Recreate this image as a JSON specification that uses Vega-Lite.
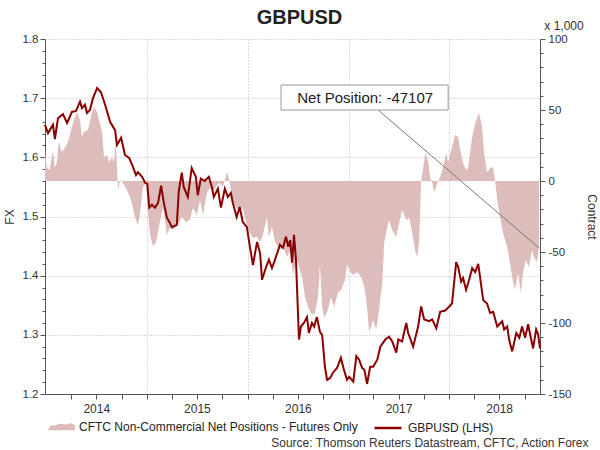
{
  "$schema": "https://vega.github.io/schema/vega-lite/v6.json",
  "width": 495,
  "height": 355,
  "autosize": {"type": "none"},
  "padding": {"left": 45, "top": 39, "right": 60, "bottom": 56},
  "background": "white",
  "config": {
    "view": {"stroke": null},
    "font": "Liberation Sans",
    "axis": {
      "labelFont": "Liberation Sans",
      "titleFont": "Liberation Sans",
      "labelColor": "#333333",
      "titleColor": "#333333",
      "domainColor": "#555555",
      "tickColor": "#555555",
      "labelFontSize": 12,
      "titleFontSize": 12,
      "titleFontWeight": "normal"
    }
  },
  "title": {
    "text": "GBPUSD",
    "font": "Liberation Sans",
    "fontSize": 20,
    "fontWeight": "bold",
    "color": "#222222",
    "anchor": "middle",
    "dx": 7,
    "offset": -8
  },
  "datasets": {
    "fx": [
      {"date": "2013-12-27", "fx": 1.655},
      {"date": "2014-01-07", "fx": 1.641},
      {"date": "2014-01-25", "fx": 1.655},
      {"date": "2014-02-01", "fx": 1.631},
      {"date": "2014-02-12", "fx": 1.666},
      {"date": "2014-03-02", "fx": 1.673},
      {"date": "2014-03-17", "fx": 1.658},
      {"date": "2014-04-04", "fx": 1.677},
      {"date": "2014-04-18", "fx": 1.678},
      {"date": "2014-05-03", "fx": 1.694},
      {"date": "2014-05-10", "fx": 1.683},
      {"date": "2014-05-21", "fx": 1.689},
      {"date": "2014-05-28", "fx": 1.675},
      {"date": "2014-06-08", "fx": 1.68},
      {"date": "2014-06-19", "fx": 1.7},
      {"date": "2014-07-04", "fx": 1.717},
      {"date": "2014-07-18", "fx": 1.71},
      {"date": "2014-08-02", "fx": 1.689},
      {"date": "2014-08-20", "fx": 1.66},
      {"date": "2014-09-07", "fx": 1.646},
      {"date": "2014-09-14", "fx": 1.621},
      {"date": "2014-09-29", "fx": 1.633},
      {"date": "2014-10-13", "fx": 1.604},
      {"date": "2014-10-28", "fx": 1.599},
      {"date": "2014-11-11", "fx": 1.584},
      {"date": "2014-11-22", "fx": 1.57},
      {"date": "2014-11-29", "fx": 1.575},
      {"date": "2014-12-14", "fx": 1.567},
      {"date": "2014-12-25", "fx": 1.557},
      {"date": "2015-01-02", "fx": 1.555},
      {"date": "2015-01-09", "fx": 1.515},
      {"date": "2015-01-19", "fx": 1.52},
      {"date": "2015-01-30", "fx": 1.515},
      {"date": "2015-02-10", "fx": 1.523},
      {"date": "2015-02-21", "fx": 1.552},
      {"date": "2015-03-03", "fx": 1.523},
      {"date": "2015-03-14", "fx": 1.498},
      {"date": "2015-03-25", "fx": 1.489},
      {"date": "2015-04-01", "fx": 1.482},
      {"date": "2015-04-19", "fx": 1.486},
      {"date": "2015-04-26", "fx": 1.542},
      {"date": "2015-05-07", "fx": 1.574},
      {"date": "2015-05-14", "fx": 1.55},
      {"date": "2015-05-29", "fx": 1.533},
      {"date": "2015-06-12", "fx": 1.582},
      {"date": "2015-06-27", "fx": 1.567},
      {"date": "2015-07-04", "fx": 1.536},
      {"date": "2015-07-15", "fx": 1.564},
      {"date": "2015-07-29", "fx": 1.56},
      {"date": "2015-08-13", "fx": 1.567},
      {"date": "2015-08-24", "fx": 1.55},
      {"date": "2015-08-31", "fx": 1.533},
      {"date": "2015-09-15", "fx": 1.547},
      {"date": "2015-09-26", "fx": 1.515},
      {"date": "2015-10-10", "fx": 1.547},
      {"date": "2015-10-21", "fx": 1.533},
      {"date": "2015-11-01", "fx": 1.54},
      {"date": "2015-11-08", "fx": 1.523},
      {"date": "2015-11-22", "fx": 1.499},
      {"date": "2015-12-03", "fx": 1.516},
      {"date": "2015-12-14", "fx": 1.491},
      {"date": "2015-12-29", "fx": 1.482},
      {"date": "2016-01-09", "fx": 1.449},
      {"date": "2016-01-20", "fx": 1.418},
      {"date": "2016-02-04", "fx": 1.457},
      {"date": "2016-02-15", "fx": 1.438},
      {"date": "2016-02-22", "fx": 1.393},
      {"date": "2016-03-08", "fx": 1.415},
      {"date": "2016-03-18", "fx": 1.427},
      {"date": "2016-03-29", "fx": 1.413},
      {"date": "2016-04-09", "fx": 1.427},
      {"date": "2016-04-27", "fx": 1.452},
      {"date": "2016-05-08", "fx": 1.447},
      {"date": "2016-05-19", "fx": 1.466},
      {"date": "2016-05-27", "fx": 1.449},
      {"date": "2016-06-03", "fx": 1.46},
      {"date": "2016-06-10", "fx": 1.422},
      {"date": "2016-06-17", "fx": 1.469},
      {"date": "2016-06-24", "fx": 1.427},
      {"date": "2016-07-05", "fx": 1.292},
      {"date": "2016-07-12", "fx": 1.314},
      {"date": "2016-07-23", "fx": 1.32},
      {"date": "2016-08-03", "fx": 1.33},
      {"date": "2016-08-10", "fx": 1.303},
      {"date": "2016-08-21", "fx": 1.32},
      {"date": "2016-08-29", "fx": 1.314},
      {"date": "2016-09-08", "fx": 1.33},
      {"date": "2016-09-19", "fx": 1.305},
      {"date": "2016-09-27", "fx": 1.3},
      {"date": "2016-10-07", "fx": 1.246},
      {"date": "2016-10-15", "fx": 1.224},
      {"date": "2016-10-26", "fx": 1.227},
      {"date": "2016-11-05", "fx": 1.236},
      {"date": "2016-11-20", "fx": 1.244},
      {"date": "2016-12-04", "fx": 1.261},
      {"date": "2016-12-15", "fx": 1.241},
      {"date": "2016-12-26", "fx": 1.224},
      {"date": "2017-01-03", "fx": 1.229},
      {"date": "2017-01-18", "fx": 1.221},
      {"date": "2017-01-29", "fx": 1.264},
      {"date": "2017-02-08", "fx": 1.258},
      {"date": "2017-02-19", "fx": 1.244},
      {"date": "2017-02-27", "fx": 1.241},
      {"date": "2017-03-09", "fx": 1.217},
      {"date": "2017-03-20", "fx": 1.246},
      {"date": "2017-03-31", "fx": 1.246},
      {"date": "2017-04-15", "fx": 1.258},
      {"date": "2017-04-26", "fx": 1.28},
      {"date": "2017-05-14", "fx": 1.292},
      {"date": "2017-05-28", "fx": 1.297},
      {"date": "2017-06-08", "fx": 1.289},
      {"date": "2017-06-23", "fx": 1.27},
      {"date": "2017-06-30", "fx": 1.292},
      {"date": "2017-07-14", "fx": 1.289},
      {"date": "2017-07-29", "fx": 1.32},
      {"date": "2017-08-05", "fx": 1.303},
      {"date": "2017-08-23", "fx": 1.28},
      {"date": "2017-09-10", "fx": 1.314},
      {"date": "2017-09-21", "fx": 1.348},
      {"date": "2017-10-02", "fx": 1.326},
      {"date": "2017-10-20", "fx": 1.323},
      {"date": "2017-10-31", "fx": 1.326},
      {"date": "2017-11-15", "fx": 1.311},
      {"date": "2017-11-29", "fx": 1.339},
      {"date": "2017-12-17", "fx": 1.341},
      {"date": "2018-01-01", "fx": 1.348},
      {"date": "2018-01-11", "fx": 1.353},
      {"date": "2018-01-26", "fx": 1.423},
      {"date": "2018-02-02", "fx": 1.415},
      {"date": "2018-02-13", "fx": 1.39},
      {"date": "2018-02-20", "fx": 1.396},
      {"date": "2018-03-03", "fx": 1.376},
      {"date": "2018-03-14", "fx": 1.393},
      {"date": "2018-03-25", "fx": 1.413},
      {"date": "2018-04-05", "fx": 1.406},
      {"date": "2018-04-16", "fx": 1.42},
      {"date": "2018-05-04", "fx": 1.359},
      {"date": "2018-05-18", "fx": 1.353},
      {"date": "2018-05-29", "fx": 1.337},
      {"date": "2018-06-09", "fx": 1.339},
      {"date": "2018-06-24", "fx": 1.314},
      {"date": "2018-07-12", "fx": 1.323},
      {"date": "2018-07-19", "fx": 1.309},
      {"date": "2018-07-30", "fx": 1.314},
      {"date": "2018-08-06", "fx": 1.292},
      {"date": "2018-08-17", "fx": 1.272},
      {"date": "2018-09-01", "fx": 1.303},
      {"date": "2018-09-12", "fx": 1.295},
      {"date": "2018-09-22", "fx": 1.314},
      {"date": "2018-10-03", "fx": 1.295},
      {"date": "2018-10-14", "fx": 1.318},
      {"date": "2018-10-21", "fx": 1.301},
      {"date": "2018-11-01", "fx": 1.277},
      {"date": "2018-11-12", "fx": 1.309},
      {"date": "2018-11-19", "fx": 1.301},
      {"date": "2018-11-26", "fx": 1.277}
    ],
    "pos": [
      {"date": "2013-12-27", "net": 21.8},
      {"date": "2014-01-02", "net": 9.9},
      {"date": "2014-01-13", "net": 7.7},
      {"date": "2014-01-25", "net": 21.8},
      {"date": "2014-02-01", "net": 9.2},
      {"date": "2014-02-08", "net": 13.4},
      {"date": "2014-02-15", "net": 27.5},
      {"date": "2014-02-26", "net": 20.4},
      {"date": "2014-03-09", "net": 23.2},
      {"date": "2014-03-20", "net": 27.5},
      {"date": "2014-04-04", "net": 38},
      {"date": "2014-04-11", "net": 43},
      {"date": "2014-04-22", "net": 48.6},
      {"date": "2014-05-03", "net": 43},
      {"date": "2014-05-10", "net": 31},
      {"date": "2014-05-17", "net": 34.5},
      {"date": "2014-06-01", "net": 35.9},
      {"date": "2014-06-15", "net": 47.9},
      {"date": "2014-06-23", "net": 52},
      {"date": "2014-07-04", "net": 48.6},
      {"date": "2014-07-11", "net": 43},
      {"date": "2014-07-22", "net": 34.5},
      {"date": "2014-07-29", "net": 16.9},
      {"date": "2014-08-09", "net": 18.3},
      {"date": "2014-08-16", "net": 13.4},
      {"date": "2014-08-27", "net": 16.9},
      {"date": "2014-09-03", "net": 13.4},
      {"date": "2014-09-10", "net": 27.5},
      {"date": "2014-09-18", "net": -6.3},
      {"date": "2014-09-25", "net": 0.7},
      {"date": "2014-10-06", "net": -1.4},
      {"date": "2014-10-20", "net": -6.3},
      {"date": "2014-11-04", "net": -13.4},
      {"date": "2014-11-18", "net": -25.4},
      {"date": "2014-11-29", "net": -31},
      {"date": "2014-12-07", "net": -22.5},
      {"date": "2014-12-17", "net": -4.2},
      {"date": "2014-12-28", "net": -1.4},
      {"date": "2015-01-04", "net": -20.4},
      {"date": "2015-01-11", "net": -36.6},
      {"date": "2015-01-22", "net": -45.8},
      {"date": "2015-02-02", "net": -43.7},
      {"date": "2015-02-13", "net": -32.4},
      {"date": "2015-02-28", "net": -18.3},
      {"date": "2015-03-07", "net": -27.5},
      {"date": "2015-03-14", "net": -38},
      {"date": "2015-03-25", "net": -33},
      {"date": "2015-04-05", "net": -34.5},
      {"date": "2015-04-23", "net": -31},
      {"date": "2015-05-07", "net": -25.4},
      {"date": "2015-05-22", "net": -28.9},
      {"date": "2015-06-05", "net": -27.5},
      {"date": "2015-06-16", "net": -19},
      {"date": "2015-07-01", "net": -23.9},
      {"date": "2015-07-12", "net": -13.4},
      {"date": "2015-07-23", "net": -23.9},
      {"date": "2015-08-06", "net": -8.5},
      {"date": "2015-08-17", "net": -4.9},
      {"date": "2015-08-28", "net": -7.7},
      {"date": "2015-09-11", "net": -2.8},
      {"date": "2015-09-22", "net": -1.4},
      {"date": "2015-10-03", "net": -4.2},
      {"date": "2015-10-18", "net": 6.3},
      {"date": "2015-10-25", "net": 2},
      {"date": "2015-11-01", "net": -6.3},
      {"date": "2015-11-08", "net": -15.5},
      {"date": "2015-11-22", "net": -19},
      {"date": "2015-12-03", "net": -21.8},
      {"date": "2015-12-14", "net": -18.3},
      {"date": "2015-12-29", "net": -31},
      {"date": "2016-01-09", "net": -36.6},
      {"date": "2016-01-20", "net": -40},
      {"date": "2016-02-04", "net": -39.4},
      {"date": "2016-02-15", "net": -43},
      {"date": "2016-02-25", "net": -38},
      {"date": "2016-03-11", "net": -25.4},
      {"date": "2016-03-18", "net": -39.4},
      {"date": "2016-03-29", "net": -32.4},
      {"date": "2016-04-09", "net": -43},
      {"date": "2016-04-27", "net": -48.6},
      {"date": "2016-05-08", "net": -46.5},
      {"date": "2016-05-23", "net": -53.5},
      {"date": "2016-06-03", "net": -48.6},
      {"date": "2016-06-13", "net": -66.2},
      {"date": "2016-06-27", "net": -55},
      {"date": "2016-07-16", "net": -67.6},
      {"date": "2016-07-27", "net": -81.7},
      {"date": "2016-08-07", "net": -88.7},
      {"date": "2016-08-21", "net": -94.4},
      {"date": "2016-09-01", "net": -93},
      {"date": "2016-09-12", "net": -81.7},
      {"date": "2016-09-19", "net": -59},
      {"date": "2016-09-27", "net": -88.7},
      {"date": "2016-10-04", "net": -96.5},
      {"date": "2016-10-18", "net": -90.8},
      {"date": "2016-10-29", "net": -81.7},
      {"date": "2016-11-09", "net": -88.7},
      {"date": "2016-11-23", "net": -78.9},
      {"date": "2016-12-04", "net": -76.8},
      {"date": "2016-12-19", "net": -69.7},
      {"date": "2016-12-26", "net": -59},
      {"date": "2017-01-07", "net": -64},
      {"date": "2017-01-18", "net": -66.2},
      {"date": "2017-02-01", "net": -64},
      {"date": "2017-02-15", "net": -67.6},
      {"date": "2017-02-27", "net": -74.6},
      {"date": "2017-03-09", "net": -88.7},
      {"date": "2017-03-16", "net": -106},
      {"date": "2017-03-23", "net": -102.8},
      {"date": "2017-03-31", "net": -97.9},
      {"date": "2017-04-11", "net": -104.9},
      {"date": "2017-04-18", "net": -95.8},
      {"date": "2017-05-03", "net": -71.8},
      {"date": "2017-05-10", "net": -43.7},
      {"date": "2017-05-21", "net": -32.4},
      {"date": "2017-05-28", "net": -27.5},
      {"date": "2017-06-08", "net": -34.5},
      {"date": "2017-06-23", "net": -39.4},
      {"date": "2017-06-30", "net": -32.4},
      {"date": "2017-07-14", "net": -20.4},
      {"date": "2017-07-29", "net": -27.5},
      {"date": "2017-08-09", "net": -26},
      {"date": "2017-08-20", "net": -36.6},
      {"date": "2017-08-31", "net": -50},
      {"date": "2017-09-07", "net": -53.5},
      {"date": "2017-09-14", "net": -41.5},
      {"date": "2017-09-21", "net": 0},
      {"date": "2017-09-29", "net": 9.9},
      {"date": "2017-10-06", "net": 19.7},
      {"date": "2017-10-17", "net": 13.4},
      {"date": "2017-10-24", "net": 2},
      {"date": "2017-10-31", "net": -1.4},
      {"date": "2017-11-08", "net": -8.5},
      {"date": "2017-11-18", "net": -1.4},
      {"date": "2017-11-29", "net": 2.8},
      {"date": "2017-12-10", "net": 9.9},
      {"date": "2017-12-21", "net": 19.7},
      {"date": "2017-12-28", "net": 13.4},
      {"date": "2018-01-11", "net": 23.9},
      {"date": "2018-01-22", "net": 32.4},
      {"date": "2018-02-02", "net": 31},
      {"date": "2018-02-13", "net": 18.3},
      {"date": "2018-02-20", "net": 12.7},
      {"date": "2018-03-03", "net": 7.7},
      {"date": "2018-03-10", "net": 9.2},
      {"date": "2018-03-25", "net": 31},
      {"date": "2018-04-05", "net": 40.8},
      {"date": "2018-04-19", "net": 47.9},
      {"date": "2018-04-30", "net": 38},
      {"date": "2018-05-07", "net": 19.7},
      {"date": "2018-05-18", "net": 6.3},
      {"date": "2018-05-25", "net": 7.7},
      {"date": "2018-06-01", "net": 9.9},
      {"date": "2018-06-09", "net": 9.2},
      {"date": "2018-06-16", "net": 0.7},
      {"date": "2018-06-24", "net": -13.4},
      {"date": "2018-07-04", "net": -25.4},
      {"date": "2018-07-15", "net": -36.6},
      {"date": "2018-07-30", "net": -46.5},
      {"date": "2018-08-09", "net": -57.7},
      {"date": "2018-08-17", "net": -67.6},
      {"date": "2018-08-27", "net": -76.8},
      {"date": "2018-09-07", "net": -64.8},
      {"date": "2018-09-18", "net": -78.9},
      {"date": "2018-09-25", "net": -64.8},
      {"date": "2018-10-06", "net": -55.6},
      {"date": "2018-10-17", "net": -60.6},
      {"date": "2018-10-28", "net": -48.6},
      {"date": "2018-11-04", "net": -53.5},
      {"date": "2018-11-15", "net": -57},
      {"date": "2018-11-22", "net": -47.107}
    ],
    "note_line": [{"date": "2017-04-18", "date2": "2018-11-22", "net": 50, "net2": -47.107}],
    "note_box": [{"date": "2016-05-01", "date2": "2017-12-28", "net": 50, "net2": 67.6}],
    "note_label": [{"date": "2017-03-02", "net": 58.8}],
    "unit_label": [{"date": "2019-02-21", "net": 106.3}]
  },
  "encoding": {
    "x": {
      "field": "date",
      "type": "temporal",
      "scale": {
        "type": "utc",
        "domain": [
          {"year": 2013, "month": 12, "date": 27, "utc": true},
          {"year": 2018, "month": 11, "date": 26, "utc": true}
        ]
      },
      "axis": {
        "values": [
          {"year": 2014, "month": 4, "date": 1, "utc": true},
          {"year": 2014, "month": 7, "date": 1, "utc": true},
          {"year": 2014, "month": 10, "date": 1, "utc": true},
          {"year": 2015, "month": 1, "date": 1, "utc": true},
          {"year": 2015, "month": 4, "date": 1, "utc": true},
          {"year": 2015, "month": 7, "date": 1, "utc": true},
          {"year": 2015, "month": 10, "date": 1, "utc": true},
          {"year": 2016, "month": 1, "date": 1, "utc": true},
          {"year": 2016, "month": 4, "date": 1, "utc": true},
          {"year": 2016, "month": 7, "date": 1, "utc": true},
          {"year": 2016, "month": 10, "date": 1, "utc": true},
          {"year": 2017, "month": 1, "date": 1, "utc": true},
          {"year": 2017, "month": 4, "date": 1, "utc": true},
          {"year": 2017, "month": 7, "date": 1, "utc": true},
          {"year": 2017, "month": 10, "date": 1, "utc": true},
          {"year": 2018, "month": 1, "date": 1, "utc": true},
          {"year": 2018, "month": 4, "date": 1, "utc": true},
          {"year": 2018, "month": 7, "date": 1, "utc": true},
          {"year": 2018, "month": 10, "date": 1, "utc": true}
        ],
        "labelExpr": "utcmonth(datum.value) == 6 ? utcFormat(datum.value, '%Y') : ''",
        "labelOverlap": false,
        "labelFlush": false,
        "labelPadding": 4,
        "tickSize": 5,
        "grid": true,
        "gridColor": "#b8b8b8",
        "gridDash": [1, 2],
        "gridOpacity": {"condition": {"test": "utcmonth(datum.value) == 0", "value": 1}, "value": 0},
        "title": "Source: Thomson Reuters Datastream, CFTC, Action Forex",
        "titleAnchor": "end",
        "titleAlign": "right",
        "titleBaseline": "alphabetic",
        "titleX": 543,
        "titleY": 52
      }
    }
  },
  "layer": [
    {
      "encoding": {
        "y": {
          "field": "net",
          "type": "quantitative",
          "scale": {"domain": [-150, 100], "nice": false},
          "axis": {
            "orient": "right",
            "title": "Contract",
            "values": [-150, -140, -130, -120, -110, -100, -90, -80, -70, -60, -50, -40, -30, -20, -10, 0, 10, 20, 30, 40, 50, 60, 70, 80, 90, 100],
            "labelExpr": "datum.value % 50 == 0 ? '' + datum.value : ''",
            "tickSize": {"condition": {"test": "datum.value % 50 == 0", "value": 5}, "value": 3},
            "labelPadding": 3,
            "labelFontSize": 11.5,
            "labelOverlap": false,
            "labelFlush": false,
            "grid": false,
            "titlePadding": 13
          }
        }
      },
      "layer": [
        {
          "data": {"name": "pos"},
          "mark": {"type": "area", "opacity": 1},
          "encoding": {
            "fill": {
              "datum": "CFTC Non-Commercial Net Positions - Futures Only",
              "scale": {"range": ["#ddbcbc"]},
              "legend": {
                "orient": "none",
                "legendX": 3,
                "legendY": 374,
                "title": null,
                "padding": 0,
                "symbolType": "M-1,0.28 C-0.8,-0.3 -0.55,0.02 -0.3,-0.14 C-0.05,-0.3 0.25,-0.06 0.5,-0.2 C0.75,-0.34 0.9,-0.12 1,-0.1 L1,0.28 Z",
                "symbolSize": 729,
                "symbolStrokeWidth": 0,
                "symbolOpacity": 1,
                "labelFont": "Liberation Sans",
                "labelFontSize": 12,
                "labelColor": "#222222",
                "labelOffset": 4,
                "labelLimit": 0
              }
            }
          }
        },
        {
          "data": {"name": "note_line"},
          "mark": {"type": "rule", "color": "#777777", "strokeWidth": 1},
          "encoding": {
            "x2": {"field": "date2"},
            "y2": {"field": "net2"}
          }
        },
        {
          "data": {"name": "note_box"},
          "mark": {"type": "rect", "fill": "white", "stroke": "#999999", "strokeWidth": 1},
          "encoding": {
            "x2": {"field": "date2"},
            "y2": {"field": "net2"}
          }
        },
        {
          "data": {"name": "note_label"},
          "mark": {"type": "text", "text": "Net Position: -47107", "font": "Liberation Sans", "fontSize": 15, "color": "#222222", "align": "center", "baseline": "middle"},
          "encoding": {}
        },
        {
          "data": {"name": "unit_label"},
          "mark": {"type": "text", "text": "x 1,000", "font": "Liberation Sans", "fontSize": 12, "color": "#333333", "align": "center", "baseline": "alphabetic"},
          "encoding": {}
        }
      ]
    },
    {
      "data": {"name": "fx"},
      "mark": {"type": "line", "strokeWidth": 2, "interpolate": "linear"},
      "encoding": {
        "y": {
          "field": "fx",
          "type": "quantitative",
          "scale": {"domain": [1.2, 1.8], "zero": false, "nice": false},
          "axis": {
            "orient": "left",
            "title": "FX",
            "values": [1.2, 1.22, 1.24, 1.26, 1.28, 1.3, 1.32, 1.34, 1.36, 1.38, 1.4, 1.42, 1.44, 1.46, 1.48, 1.5, 1.52, 1.54, 1.56, 1.58, 1.6, 1.62, 1.64, 1.66, 1.68, 1.7, 1.72, 1.74, 1.76, 1.78, 1.8],
            "labelExpr": "abs(datum.value * 10 - round(datum.value * 10)) < 0.001 ? format(datum.value, '.1f') : ''",
            "tickSize": {"condition": {"test": "abs(datum.value * 10 - round(datum.value * 10)) < 0.001", "value": 5}, "value": 3},
            "labelPadding": 2,
            "labelFontSize": 11.5,
            "labelOverlap": false,
            "labelFlush": false,
            "grid": true,
            "gridColor": "#b8b8b8",
            "gridDash": [1, 2],
            "gridOpacity": {"condition": {"test": "abs(datum.value * 10 - round(datum.value * 10)) < 0.001 && datum.value > 1.25", "value": 1}, "value": 0},
            "titlePadding": 6
          }
        },
        "stroke": {
          "datum": "GBPUSD (LHS)",
          "scale": {"range": ["#8b0000"]},
          "legend": {
            "orient": "none",
            "legendX": 328,
            "legendY": 374,
            "title": null,
            "padding": 0,
            "symbolType": "stroke",
            "symbolSize": 729,
            "symbolStrokeWidth": 2.5,
            "symbolOpacity": 1,
            "labelFont": "Liberation Sans",
            "labelFontSize": 12,
            "labelColor": "#222222",
            "labelOffset": 5,
            "labelLimit": 0
          }
        }
      }
    }
  ],
  "resolve": {"scale": {"y": "independent"}}
}
